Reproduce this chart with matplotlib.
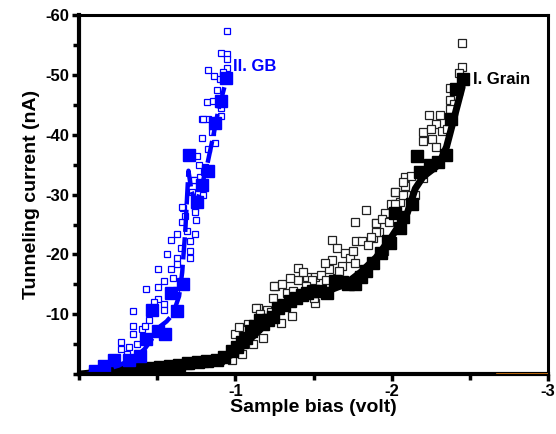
import numpy as np
import matplotlib.pyplot as plt
from matplotlib.ticker import MultipleLocator

plt.rcParams['font.family'] = ['Liberation Sans', 'DejaVu Sans']
plt.rcParams['font.weight'] = 'bold'
plt.rcParams['axes.unicode_minus'] = False

# --- II. GB (grain boundary), blue ---
gb_open_x = [-0.948, -0.905, -0.948, -0.948, -0.826, -0.865, -0.90, -0.948, -0.82, -0.858,
             -0.91, -0.784, -0.826, -0.905, -0.784, -0.869, -0.826, -0.752, -0.805, -0.73,
             -0.773, -0.79, -0.80, -0.737, -0.667, -0.741, -0.79, -0.745, -0.75, -0.66,
             -0.66, -0.624, -0.586, -0.709, -0.709, -0.709, -0.628, -0.505, -0.586, -0.628,
             -0.43, -0.505, -0.543, -0.505, -0.347, -0.543, -0.543, -0.347, -0.347, -0.27,
             -0.32, -0.27, -0.31, -0.40, -0.45, -0.60, -0.65, -0.69, -0.72, -0.77,
             -0.85, -0.88, -0.92, -0.37, -0.42, -0.48, -0.56, -0.62, -0.68, -0.74]
gb_open_y = [-57.4, -53.6, -53.5, -52.6, -50.9, -49.8, -49.3, -51.2, -45.5, -45.7,
             -44.5, -42.7, -42.6, -43.2, -39.5, -38.7, -37.6, -36.5, -34.6, -32.4,
             -32.9, -42.6, -33.8, -32.4, -27.8, -27.7, -29.9, -27.1, -25.7, -28.0,
             -25.5, -23.5, -22.4, -22.2, -20.5, -19.4, -19.4, -17.6, -17.5, -18.4,
             -14.3, -14.6, -15.5, -12.5, -10.5, -11.8, -10.8, -8.1, -6.7, -5.3,
             -4.5, -4.2, -3.4, -7.5, -9.0, -16.0, -21.0, -24.0, -30.5, -35.0,
             -40.5, -47.5, -50.5, -5.0, -8.0, -12.0, -20.0, -14.0, -26.5, -23.5]
gb_fill_x = [-0.943, -0.905, -0.869, -0.705, -0.826, -0.784, -0.752, -0.667, -0.586, -0.624,
             -0.469, -0.507, -0.550, -0.426, -0.39, -0.32, -0.224, -0.16, -0.10]
gb_fill_y = [-49.5, -45.7, -42.0, -36.7, -33.9, -31.6, -28.8, -15.0, -13.6, -10.5,
             -10.7, -7.2, -6.7, -5.9, -3.1, -2.4, -2.3, -1.4, -0.6]
gb_line_x = [-0.05, -0.15, -0.25, -0.35, -0.42, -0.47, -0.52, -0.56, -0.60, -0.64,
             -0.66, -0.68, -0.69, -0.70, -0.72, -0.75, -0.78, -0.82, -0.86, -0.89, -0.93]
gb_line_y = [0.0, -0.6, -1.4, -2.6, -4.2, -6.0, -8.0, -8.8, -10.0, -13.0,
             -17.0, -24.0, -29.0, -34.0, -30.5, -28.5, -31.0, -35.0, -40.0, -44.0, -48.0]

# --- I. Grain, black ---
gr_open_x = [-2.45, -2.45, -2.43, -2.37, -2.37, -2.40, -2.37, -2.24, -2.31, -2.285,
             -2.20, -2.25, -2.20, -2.26, -2.32, -2.285, -2.083, -2.12, -2.20, -2.019,
             -2.083, -2.09, -1.998, -2.05, -1.955, -1.90, -1.92, -1.88, -2.072, -2.019,
             -2.072, -2.019, -1.832, -1.763, -1.90, -1.94, -1.90, -1.87, -1.62, -1.77,
             -1.81, -1.647, -1.70, -1.615, -1.73, -1.763, -1.40, -1.40, -1.455, -1.51,
             -1.55, -1.58, -1.647, -1.252, -1.327, -1.37, -1.49, -1.508, -1.24, -1.146,
             -1.20, -1.23, -1.359, -1.29, -1.082, -0.997, -1.05, -1.178, -1.11, -1.04,
             -0.976, -1.135, -1.25, -1.05, -0.90, -0.80, -0.70, -0.60, -1.50, -1.95,
             -1.30, -1.35, -1.43, -1.60, -1.68, -1.75, -1.85, -1.98, -2.15, -2.35,
             -1.16, -1.02, -1.45, -1.57, -1.66]
gr_open_y = [-55.4, -51.4, -50.4, -47.9, -45.9, -45.1, -44.3, -43.3, -43.3, -41.8,
             -40.4, -40.9, -39.0, -39.3, -40.7, -37.9, -32.9, -33.2, -32.7, -30.4,
             -31.5, -29.9, -28.5, -28.8, -26.9, -25.2, -23.8, -22.7, -32.1, -30.4,
             -29.9, -28.5, -27.4, -25.5, -25.2, -26.0, -23.8, -23.0, -22.4, -22.2,
             -22.2, -21.1, -20.2, -19.1, -19.4, -18.6, -17.7, -15.8, -16.3, -16.3,
             -16.6, -15.8, -16.1, -14.7, -13.6, -13.9, -15.8, -11.9, -12.7, -11.1,
             -10.8, -10.3, -9.7, -8.6, -8.3, -6.7, -7.3, -6.1, -5.0, -3.4,
             -2.4, -11.1, -14.7, -5.5, -2.3, -1.9, -1.6, -1.3, -12.7, -20.5,
             -15.0, -16.0, -17.0, -17.5, -18.0, -20.5, -21.5, -25.5, -30.0, -41.0,
             -10.0, -7.8, -14.8, -18.5, -17.2]
gr_fill_x = [-2.456, -2.413, -2.381, -2.158, -2.345, -2.179, -2.243, -2.296, -2.126, -2.019,
             -2.072, -2.05, -1.976, -1.987, -1.934, -1.88, -1.838, -1.80, -1.763, -1.72,
             -1.68, -1.636, -1.583, -1.54, -1.497, -1.46, -1.423, -1.39, -1.348, -1.31,
             -1.273, -1.242, -1.21, -1.178, -1.16, -1.125, -1.10, -1.071, -1.04, -1.008,
             -0.976, -0.93, -0.88, -0.82, -0.76, -0.70, -0.64, -0.58, -0.52, -0.46,
             -0.40, -0.34, -0.28, -0.22, -0.16, -0.10]
gr_fill_y = [-49.4, -47.6, -42.6, -36.5, -36.6, -33.8, -34.9, -35.4, -28.4, -26.9,
             -26.3, -24.4, -22.2, -21.9, -20.2, -18.6, -17.2, -16.2, -15.0, -15.0,
             -15.4, -15.5, -13.6, -13.9, -13.9, -13.5, -13.3, -12.7, -12.2, -11.6,
             -11.1, -9.5, -9.0, -8.3, -9.0, -8.1, -7.2, -6.1, -5.3, -4.5,
             -3.9, -2.8, -2.4, -2.2, -2.0, -1.8, -1.6, -1.4, -1.2, -1.0,
             -0.9, -0.7, -0.6, -0.4, -0.3, -0.1]
gr_line_x = [0.0, -0.2, -0.4, -0.6, -0.8, -0.9, -1.0, -1.1, -1.2, -1.3, -1.4, -1.5,
             -1.6, -1.7, -1.8, -1.9, -2.0, -2.1, -2.15, -2.2, -2.3, -2.35, -2.4, -2.45]
gr_line_y = [0.0, -0.5, -1.0, -1.4, -1.9, -2.4, -3.5, -6.0, -8.5, -11.0, -12.5, -13.3,
             -14.0, -15.0, -17.0, -19.5, -23.0, -27.0, -31.0, -33.0, -35.0, -38.0, -43.0, -48.0]

blue = '#0000ff'

fig = plt.figure(figsize=(5.56, 4.34), dpi=100)
ax = fig.add_axes([0.142, 0.138, 0.844, 0.827])

# grain
ax.plot(gr_open_x, gr_open_y, 's', ms=5.5, mfc='white', mec='#222222', mew=0.9, ls='none')
ax.plot(gr_line_x, gr_line_y, '-', color='black', lw=5, solid_capstyle='round')
ax.plot(gr_fill_x, gr_fill_y, 's', ms=8, color='black', ls='none')

# grain boundary
ax.plot(gb_open_x, gb_open_y, 's', ms=4.5, mfc='white', mec=blue, mew=0.9, ls='none')
ax.plot(gb_line_x, gb_line_y, color=blue, lw=3.2, ls=(0, (5, 1.2)))
ax.plot(gb_fill_x, gb_fill_y, 's', ms=8, color=blue, ls='none')

ax.text(-0.985, -51.4, 'II. GB', color=blue, fontsize=12, fontweight='bold', va='center')
ax.text(-2.52, -49.3, 'I. Grain', color='black', fontsize=12, fontweight='bold', va='center')

# small orange segment on the bottom axis
ax.axhline(0, xmin=0.89, xmax=1.0, color='#d9780f', lw=1.2, zorder=5)

ax.set_xlim(0, -3)
ax.set_ylim(0, -60)
ax.xaxis.set_minor_locator(MultipleLocator(0.5))
ax.yaxis.set_minor_locator(MultipleLocator(5))
ax.set_xticks([-1, -2, -3])
ax.set_yticks([-10, -20, -30, -40, -50, -60])

for side, lw in [('left', 3.0), ('bottom', 3.0), ('top', 2.2), ('right', 2.2)]:
    ax.spines[side].set_linewidth(lw)
ax.tick_params(which='major', direction='out', length=5, width=2.5, labelsize=12, pad=2)
ax.tick_params(which='minor', direction='out', length=4, width=2.5)
for lab in ax.get_xticklabels() + ax.get_yticklabels():
    lab.set_fontweight('bold')

ax.set_xlabel('Sample bias (volt)', fontsize=14, fontweight='bold', labelpad=0)
ax.set_ylabel('Tunneling current (nA)', fontsize=14, fontweight='bold', labelpad=4)

fig.savefig('out.png', dpi=100)
